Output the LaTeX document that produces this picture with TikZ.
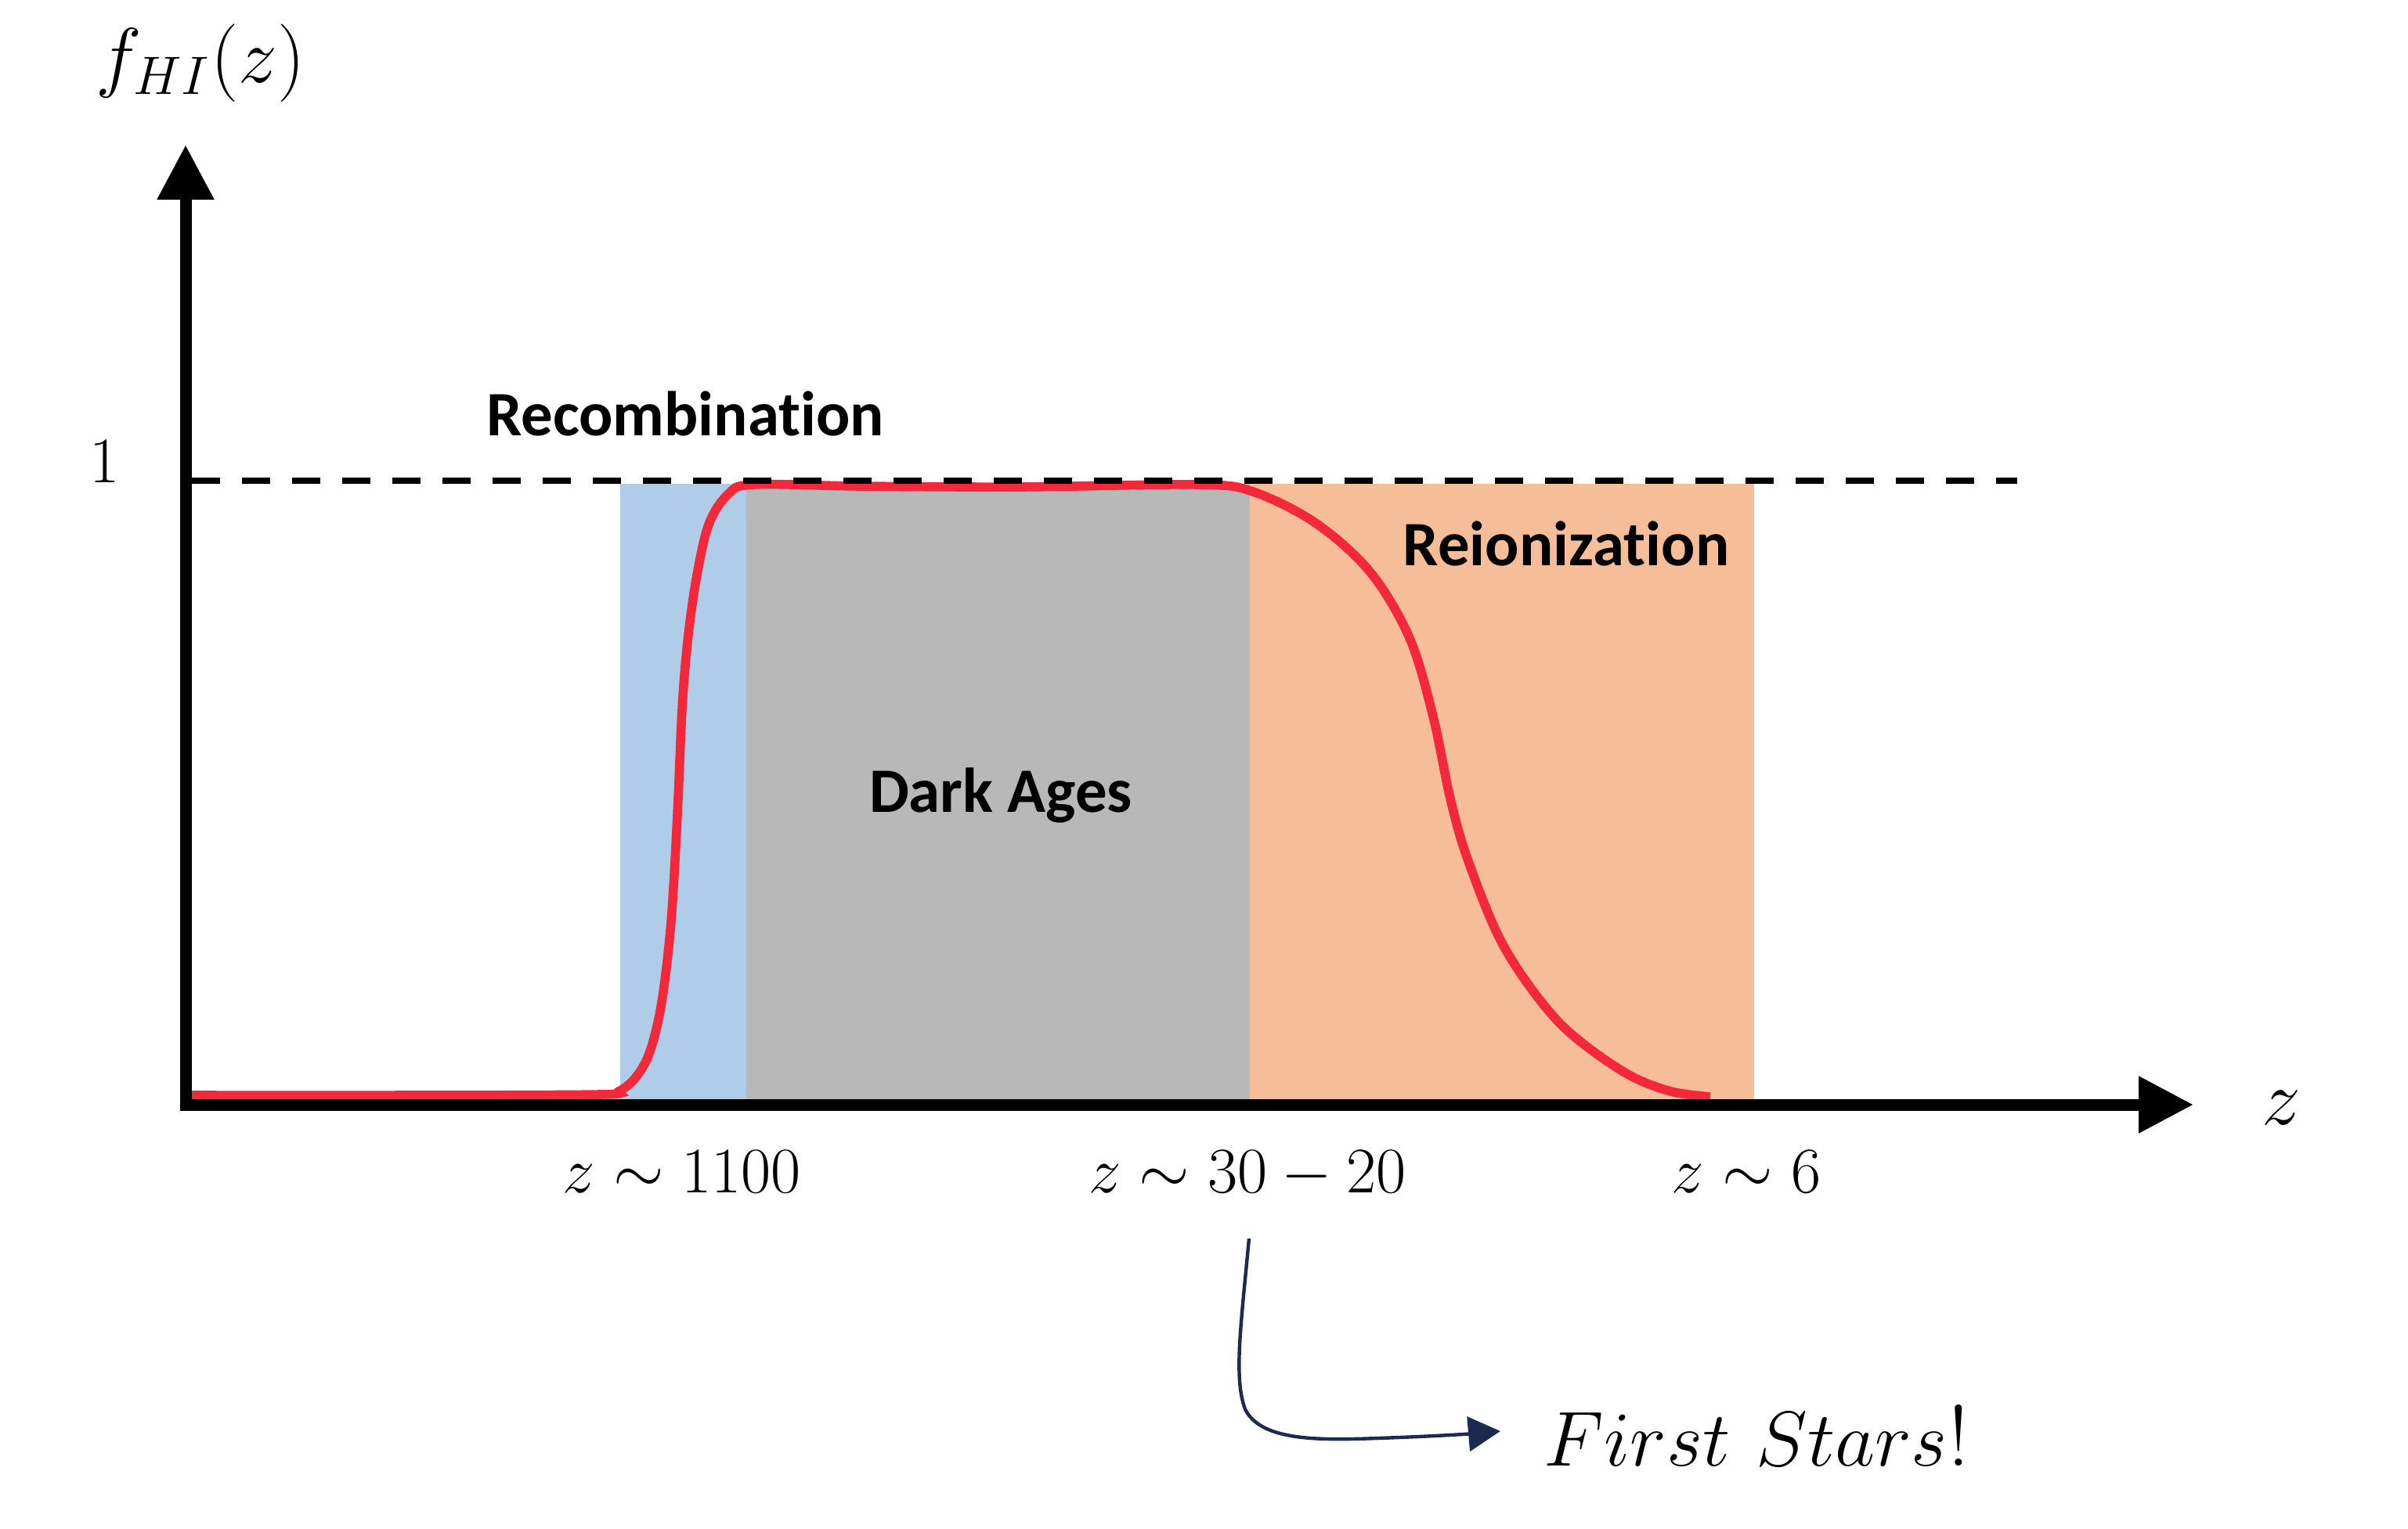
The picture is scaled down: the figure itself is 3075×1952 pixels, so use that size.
\documentclass[tikz,border=0pt]{standalone}
\usepackage{fontspec}
\setsansfont{Carlito}[Ligatures=NoCommon]
\usetikzlibrary{arrows.meta}
\definecolor{recblue}{RGB}{175,205,233}
\definecolor{agegray}{RGB}{185,184,185}
\definecolor{reiorange}{RGB}{245,190,153}
\definecolor{curvered}{RGB}{243,40,58}
\definecolor{arrnavy}{RGB}{27,42,78}
\begin{document}
\begin{tikzpicture}[x=0.25pt,y=-0.25pt,
  era/.style={font=\sffamily\bfseries\fontsize{20.2}{24}\selectfont, anchor=base, inner sep=0},
  zlab/.style={font=\fontsize{20}{24}\selectfont, anchor=base, inner sep=0},
  axisline/.style={line width=3.75pt, -{Triangle[length=17.5pt,width=17.25pt]}}]
\useasboundingbox (0,0) rectangle (3075,1952);
% era bands
\fill[recblue] (792,618) rectangle (953,1404);
\fill[agegray] (953,618) rectangle (1596,1404);
\fill[reiorange] (1596,618) rectangle (2240,1404);
% neutral fraction curve
\draw[curvered, line width=2.9pt] plot[smooth, tension=0.55] coordinates {
 (240,1399) (520,1399) (765,1398) (790,1394) (812,1376) (830,1343) (845,1280)
 (857,1177) (865,1041) (871,906) (878,820) (889,740) (905,670) (930,631)
 (962,619) (1100,621) (1300,622) (1530,619) (1600,628) (1680,668) (1750,731)
 (1800,815) (1830,915) (1852,1020) (1875,1100) (1921,1210) (1990,1305)
 (2070,1367) (2130,1393) (2184,1401)};
% level 1
\draw[line width=2pt, dash pattern=on 9pt off 7pt] (245,614) -- (2576,614);
% axes
\draw[axisline] (237,1418) -- (237,185);
\draw[axisline] (230,1411) -- (2801,1411);
% labels
\node[font=\fontsize{23}{27}\selectfont, inner sep=0] (ylab) at (256,81) {$f_{HI}(z)$};
\node[font=\fontsize{23}{27}\selectfont, inner sep=0] (xlab) at (2913,1415) {$z$};
\node[font=\fontsize{19.5}{23}\selectfont, anchor=base, inner sep=0] (one) at (134,616) {$1$};
\node[era] (rec) at (875,556) {Recombination};
\node[era] (dark) at (1278,1037) {Dark Ages};
\node[era] (reion) at (2000,722) {Reionization};
\node[zlab] (z1) at (871,1523) {$z\sim 1100$};
\node[zlab] (z2) at (1593,1523) {$z\sim 30-20$};
\node[zlab] (z3) at (2230,1523) {$z\sim 6$};
\node[font=\fontsize{27.5}{32}\selectfont, anchor=base west, inner sep=0] (fs) at (1971,1872) {$First\ Stars$!};
% arrow to first stars
\coordinate (a0) at (1595,1582);
\coordinate (a1) at (1916,1828);
\draw[arrnavy, line width=1.1pt, -{Triangle[length=10.25pt,width=11pt]}]
  (a0) .. controls (1585,1690) and (1575,1760) .. (1590,1800)
       .. controls (1610,1840) and (1680,1840) .. (1760,1837)
       .. controls (1820,1835) and (1870,1832) .. (a1);
\end{tikzpicture}
\end{document}
